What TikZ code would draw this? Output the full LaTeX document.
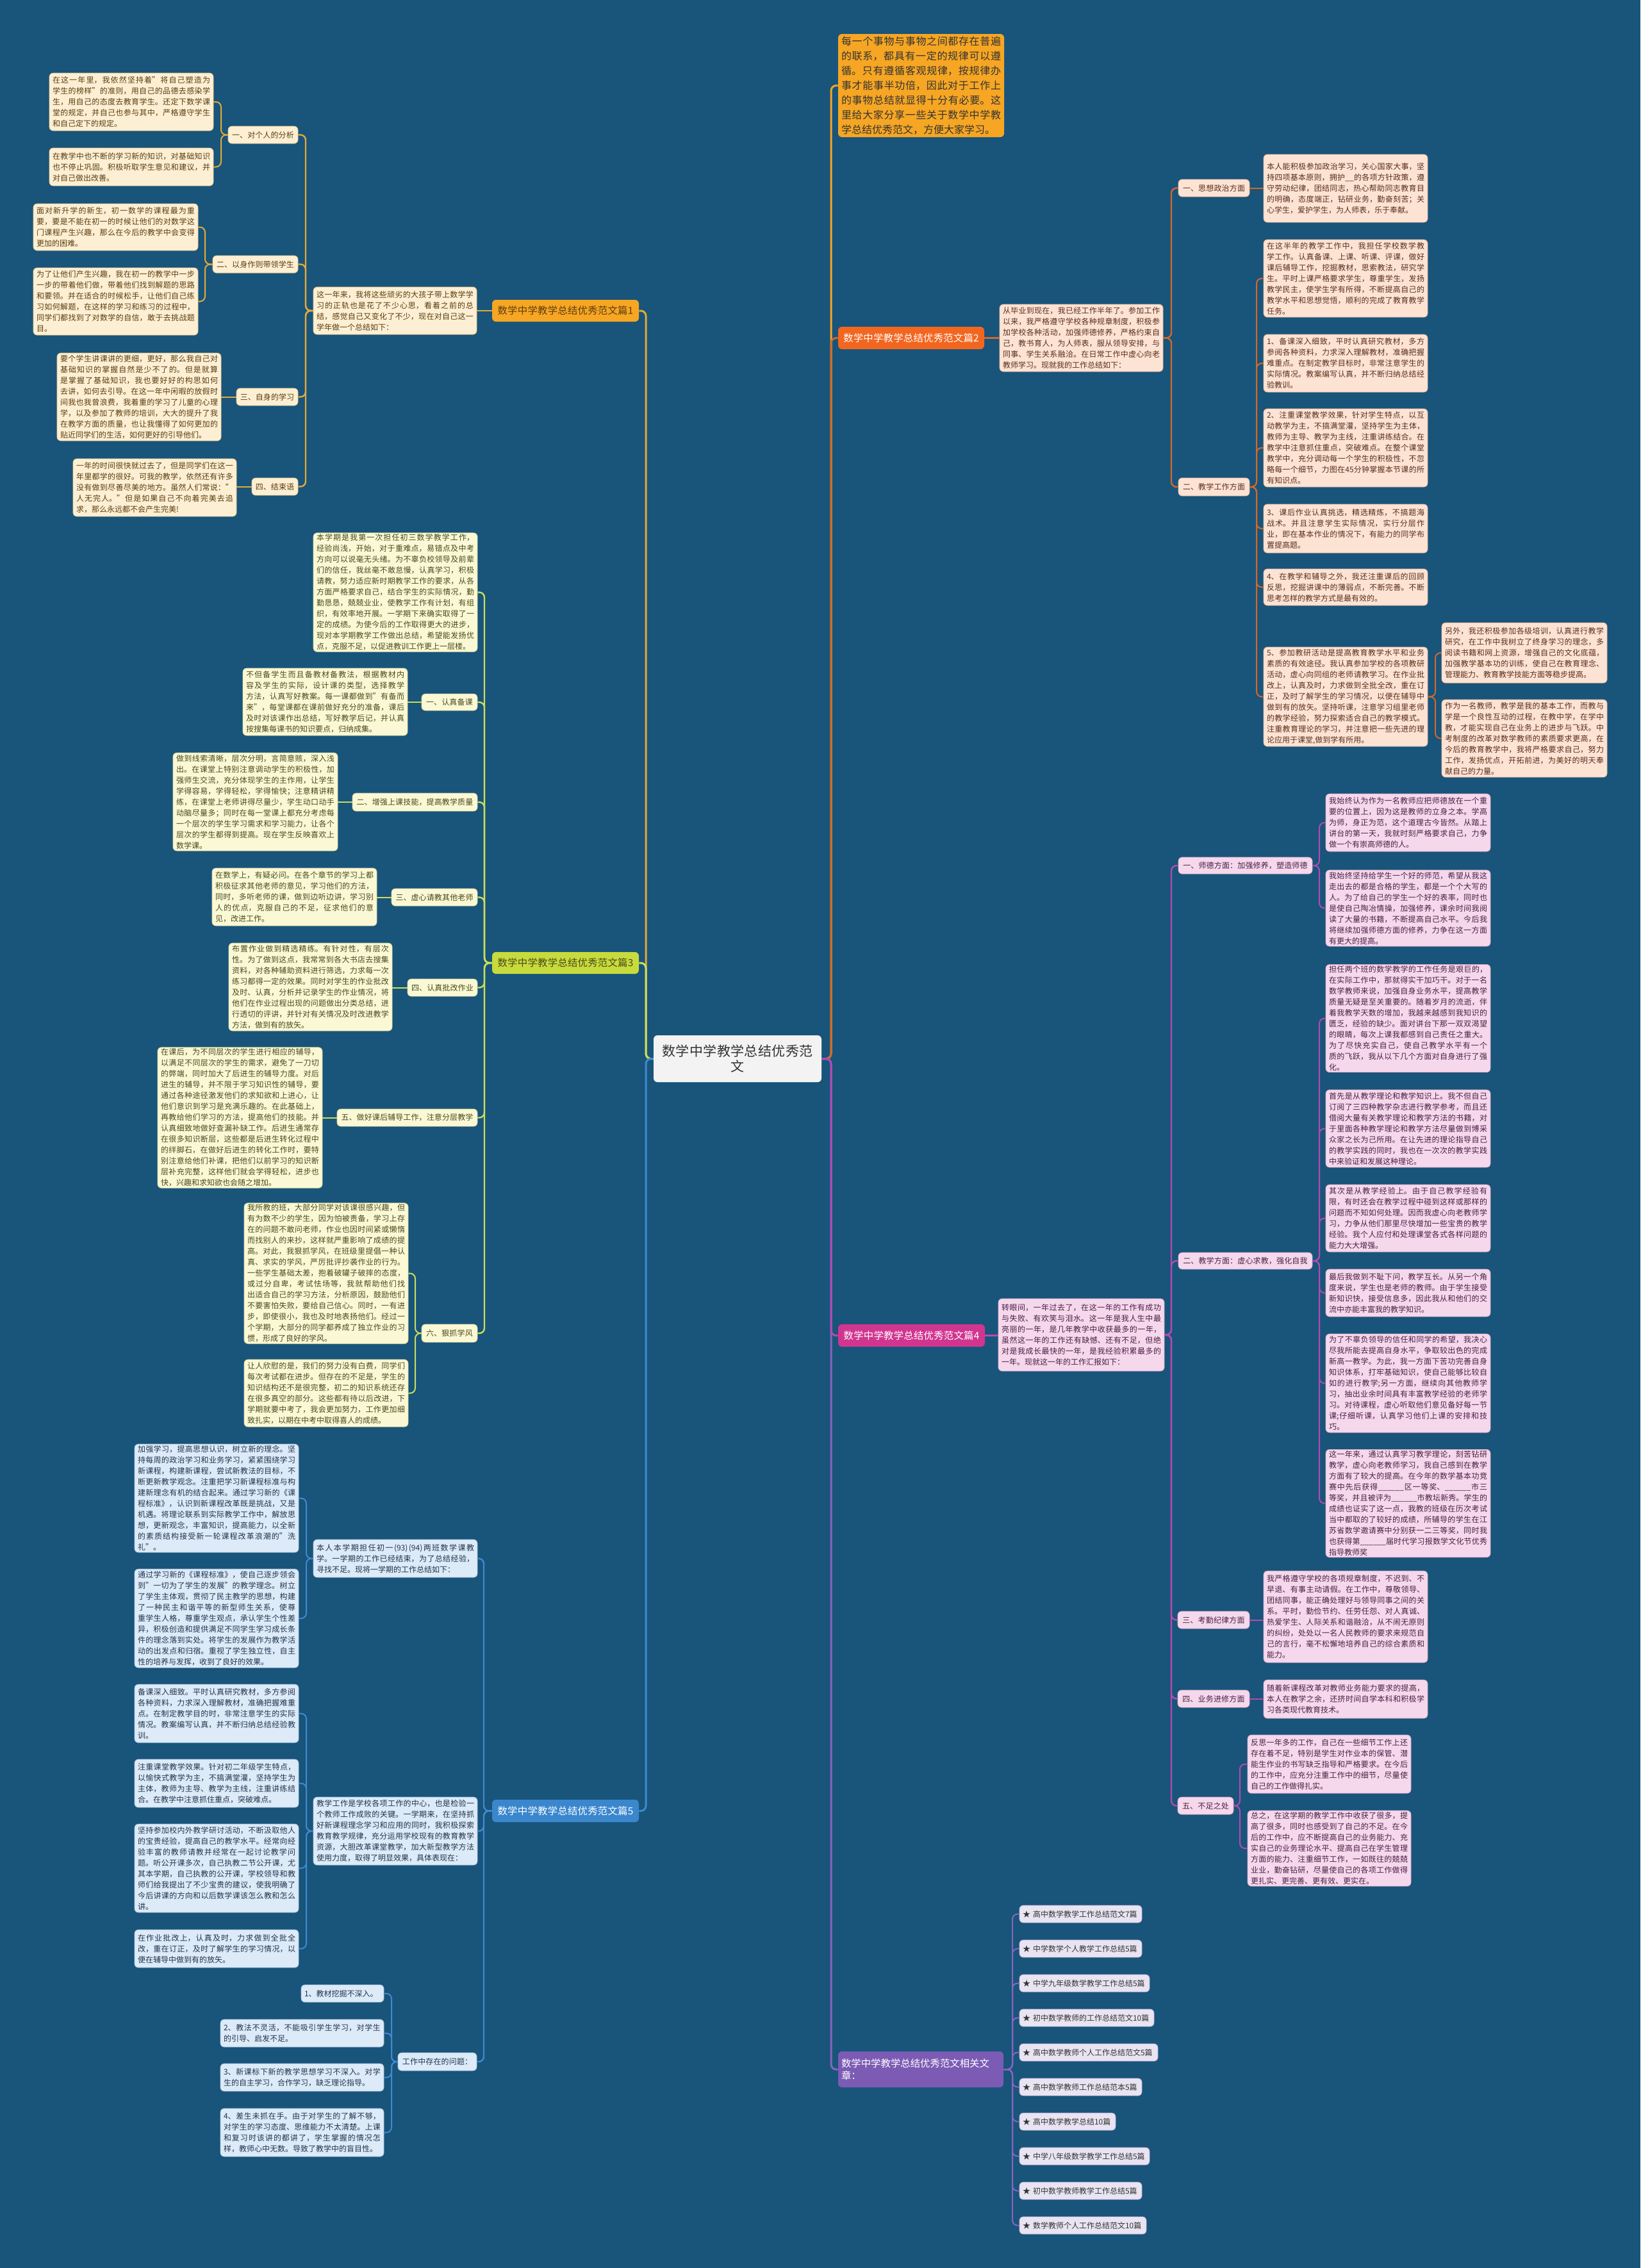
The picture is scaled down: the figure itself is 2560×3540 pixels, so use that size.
\documentclass[tikz,border=0pt]{standalone}
\usepackage{fontspec}
\setmainfont{Noto Sans CJK SC}
\XeTeXlinebreaklocale "zh"
\XeTeXlinebreakskip = 0pt plus 1pt
\definecolor{bg}{HTML}{19547A}
\definecolor{f1}{HTML}{FCEFD3}\definecolor{d1}{HTML}{E8C98C}\definecolor{t1}{HTML}{5C3D10}\definecolor{c1}{HTML}{E2A93A}\definecolor{h1c}{HTML}{F6A623}
\definecolor{f2}{HTML}{FDE3D4}\definecolor{d2}{HTML}{E9B79B}\definecolor{t2}{HTML}{5A2E1A}\definecolor{c2}{HTML}{D0692C}\definecolor{h2c}{HTML}{F2661F}
\definecolor{f3}{HTML}{FBF8D6}\definecolor{d3}{HTML}{D8DA9A}\definecolor{t3}{HTML}{4A4A1A}\definecolor{c3}{HTML}{C9DE5C}\definecolor{h3c}{HTML}{C7DB3C}
\definecolor{f4}{HTML}{F5D8EB}\definecolor{d4}{HTML}{D9A9CB}\definecolor{t4}{HTML}{4A1F45}\definecolor{c4}{HTML}{B24BAF}\definecolor{h4c}{HTML}{D0368F}
\definecolor{f5}{HTML}{DDEAF7}\definecolor{d5}{HTML}{A9C6E3}\definecolor{t5}{HTML}{1F3550}\definecolor{c5}{HTML}{3E8AD2}\definecolor{h5c}{HTML}{3A87CE}
\definecolor{f6}{HTML}{E9E4F2}\definecolor{d6}{HTML}{BFB3DA}\definecolor{t6}{HTML}{333333}\definecolor{c6}{HTML}{8566BF}\definecolor{h6c}{HTML}{7C5BB5}
\definecolor{rootf}{HTML}{F3F3F3}
\newcommand{\bx}[7]{%
  \pgfmathsetmacro{\BXcx}{(#3+#5)/2}%
  \pgfmathsetmacro{\BXcy}{(#4+#6)/2}%
  \pgfmathsetmacro{\BXw}{(#5-#3)*0.5-5}%
  \pgfmathsetmacro{\BXh}{(#6-#4)*0.5}%
  \node[#2, text width=\BXw pt, minimum height=\BXh pt] (#1) at (\BXcx,\BXcy) {#7};%
}
\begin{document}
\begin{tikzpicture}[x=0.5pt,y=-0.5pt,
  base/.style={rounded corners=3pt, inner xsep=2.5pt, inner ysep=1pt, font=\fontsize{6}{8.5}\selectfont, align=justify, line width=0.4pt},
  leafA/.style={base, fill=f1, draw=d1, text=t1}, subA/.style={leafA, align=center},
  leafB/.style={base, fill=f2, draw=d2, text=t2}, subB/.style={leafB, align=center},
  leafC/.style={base, fill=f3, draw=d3, text=t3}, subC/.style={leafC, align=center},
  leafD/.style={base, fill=f4, draw=d4, text=t4}, subD/.style={leafD, align=center},
  leafE/.style={base, fill=f5, draw=d5, text=t5}, subE/.style={leafE, align=center},
  leafF/.style={base, fill=f6, draw=d6, text=t6, align=left},
  hd/.style={rounded corners=3pt, inner xsep=2.5pt, inner ysep=1pt, font=\fontsize{7.7}{9.5}\selectfont, align=center},
  mline/.style={line width=1.5pt, rounded corners=4pt},
  sline/.style={line width=1.2pt, rounded corners=4pt},
  lline/.style={line width=1pt, rounded corners=4pt}
]
\fill[bg] (0,0) rectangle (2560,3540);
\useasboundingbox (0,0) rectangle (2560,3540);
\coordinate (TL) at (1008,0); \coordinate (TR) at (1297,0);
\coordinate (T1) at (477,0); \coordinate (T1a) at (345,0); \coordinate (T1b) at (320,0);
\coordinate (T3) at (756,0); \coordinate (T3f) at (648,0);
\coordinate (T5) at (755,0); \coordinate (T5a) at (478,0); \coordinate (T5c) at (611,0);
\coordinate (T2) at (1828,0); \coordinate (T2b) at (1961,0); \coordinate (T2c) at (2240,0);
\coordinate (T4) at (1828,0); \coordinate (T4a) at (2059,0); \coordinate (T4e) at (1935,0);
\coordinate (T6) at (1580,0);

% root
\bx{root}{rounded corners=3pt, fill=rootf, text=t6, font=\fontsize{10.5}{12}\selectfont, align=center, inner xsep=2.5pt, inner ysep=1pt}{1020}{1616}{1282}{1689}{数学中学教学总结优秀范\\文}

% ===== branch 1 =====
\bx{h1}{hd, fill=h1c, text=t1}{768}{468}{997}{502}{数学中学教学总结优秀范文篇1}
\bx{i1}{leafA}{489}{448}{744}{522}{这一年来，我将这些顽劣的大孩子带上数学学习的正轨也是花了不少心思，看着之前的总结，感觉自己又变化了不少，现在对自己这一学年做一个总结如下：}
\bx{s1a}{subA}{356}{197}{465}{224}{一、对个人的分析}
\bx{s1b}{subA}{332}{399}{465}{426}{二、以身作则带领学生}
\bx{s1c}{subA}{369}{606}{465}{633}{三、自身的学习}
\bx{s1d}{subA}{393}{746}{465}{773}{四、结束语}
\bx{l1a1}{leafA}{77}{114}{333}{204}{在这一年里，我依然坚持着"将自己塑造为学生的榜样"的准则，用自己的品德去感染学生，用自己的态度去教育学生。还定下数学课堂的规定，并自己也参与其中，严格遵守学生和自己定下的规定。}
\bx{l1a2}{leafA}{77}{231}{333}{290}{在教学中也不断的学习新的知识，对基础知识也不停止巩固。积极听取学生意见和建议，并对自己做出改善。}
\bx{l1b1}{leafA}{52}{318}{309}{391}{面对新升学的新生，初一数学的课程最为重要，要是不能在初一的时候让他们的对数学这门课程产生兴趣，那么在今后的教学中会变得更加的困难。}
\bx{l1b2}{leafA}{52}{418}{309}{523}{为了让他们产生兴趣，我在初一的教学中一步一步的带着他们做，带着他们找到解题的思路和要领。并在适合的时候松手，让他们自己练习如何解题，在这样的学习和练习的过程中，同学们都找到了对数学的自信，敢于去挑战题目。}
\bx{l1c}{leafA}{89}{551}{345}{688}{要个学生讲课讲的更细，更好，那么我自己对基础知识的掌握自然是少不了的。但是就算是掌握了基础知识，我也要好好的构思如何去讲，如何去引导。在这一年中闲暇的放假时间我也我曾浪费，我着重的学习了儿童的心理学，以及参加了教师的培训，大大的提升了我在教学方面的质量，也让我懂得了如何更加的贴近同学们的生活，如何更好的引导他们。}
\bx{l1d}{leafA}{114}{716}{369}{806}{一年的时间很快就过去了，但是同学们在这一年里都学的很好。可我的教学，依然还有许多没有做到尽善尽美的地方。虽然人们常说："人无完人。"但是如果自己不向着完美去追求，那么永远都不会产生完美!}

% ===== branch 3 =====
\bx{h3}{hd, fill=h3c, text=t3}{768}{1486}{997}{1520}{数学中学教学总结优秀范文篇3}
\bx{i3}{leafC}{489}{832}{745}{1017}{本学期是我第一次担任初三数学教学工作，经验尚浅，开始，对于重难点，易错点及中考方向可以说毫无头绪。为不辜负校领导及前辈们的信任，我丝毫不敢怠慢，认真学习，积极请教，努力适应新时期教学工作的要求，从各方面严格要求自己，结合学生的实际情况，勤勤恳恳，兢兢业业，使教学工作有计划，有组织，有效率地开展。一学期下来确实取得了一定的成绩。为使今后的工作取得更大的进步，现对本学期教学工作做出总结，希望能发扬优点，克服不足，以促进教训工作更上一层楼。}
\bx{s3a}{subC}{658}{1083}{745}{1109}{一、认真备课}
\bx{s3b}{subC}{550}{1238}{745}{1266}{二、增强上课技能，提高教学质量}
\bx{s3c}{subC}{611}{1387}{745}{1414}{三、虚心请教其他老师}
\bx{s3d}{subC}{636}{1528}{745}{1555}{四、认真批改作业}
\bx{s3e}{subC}{526}{1731}{745}{1758}{五、做好课后辅导工作，注意分层教学}
\bx{s3f}{subC}{658}{2067}{745}{2095}{六、狠抓学风}
\bx{l3a}{leafC}{379}{1043}{636}{1148}{不但备学生而且备教材备教法，根据教材内容及学生的实际，设计课的类型，选择教学方法，认真写好教案。每一课都做到"有备而来"，每堂课都在课前做好充分的准备，课后及时对该课作出总结，写好教学后记，并认真按搜集每课书的知识要点，归纳成集。}
\bx{l3b}{leafC}{270}{1175}{527}{1328}{做到线索清晰，层次分明，言简意赅，深入浅出。在课堂上特别注意调动学生的积极性，加强师生交流，充分体现学生的主作用，让学生学得容易，学得轻松，学得愉快；注意精讲精练，在课堂上老师讲得尽量少，学生动口动手动脑尽量多；同时在每一堂课上都充分考虑每一个层次的学生学习需求和学习能力，让各个层次的学生都得到提高。现在学生反映喜欢上数学课。}
\bx{l3c}{leafC}{331}{1355}{588}{1445}{在数学上，有疑必问。在各个章节的学习上都积极征求其他老师的意见，学习他们的方法，同时，多听老师的课，做到边听边讲，学习别人的优点，克服自己的不足，征求他们的意见，改进工作。}
\bx{l3d}{leafC}{357}{1472}{612}{1609}{布置作业做到精选精练。有针对性，有层次性。为了做到这点，我常常到各大书店去搜集资料，对各种辅助资料进行筛选，力求每一次练习都得一定的效果。同时对学生的作业批改及时、认真，分析并记录学生的作业情况，将他们在作业过程出现的问题做出分类总结，进行透切的评讲，并针对有关情况及时改进教学方法，做到有的放矢。}
\bx{l3e}{leafC}{246}{1637}{503}{1852}{在课后，为不同层次的学生进行相应的辅导，以满足不同层次的学生的需求，避免了一刀切的弊端，同时加大了后进生的辅导力度。对后进生的辅导，并不限于学习知识性的辅导，要通过各种途径激发他们的求知欲和上进心，让他们意识到学习是充满乐趣的。在此基础上，再教给他们学习的方法，提高他们的技能。并认真细致地做好查漏补缺工作。后进生通常存在很多知识断层，这些都是后进生转化过程中的绊脚石，在做好后进生的转化工作时，要特别注意给他们补课，把他们以前学习的知识断层补充完整，这样他们就会学得轻松，进步也快，兴趣和求知欲也会随之增加。}
\bx{l3f1}{leafC}{381}{1880}{637}{2095}{我所教的班，大部分同学对该课很感兴趣，但有为数不少的学生，因为怕被责备，学习上存在的问题不敢问老师，作业也因时间紧或懒惰而找别人的来抄，这样就严重影响了成绩的提高。对此，我狠抓学风，在班级里提倡一种认真、求实的学风，严厉批评抄袭作业的行为。一些学生基础太差，抱着破罐子破摔的态度，或过分自卑，考试怯场等，我就帮助他们找出适合自己的学习方法，分析原因，鼓励他们不要害怕失败，要给自己信心。同时，一有进步，即使很小，我也及时地表扬他们。经过一个学期，大部分的同学都养成了独立作业的习惯，形成了良好的学风。}
\bx{l3f2}{leafC}{381}{2122}{637}{2227}{让人欣慰的是，我们的努力没有白费，同学们每次考试都在进步。但存在的不足是，学生的知识结构还不是很完整，初二的知识系统还存在很多真空的部分。这些都有待以后改进，下学期就要中考了，我会更加努力，工作更加细致扎实，以期在中考中取得喜人的成绩。}

% ===== branch 5 =====
\bx{h5}{hd, fill=h5c, text=white}{768}{2809}{997}{2844}{数学中学教学总结优秀范文篇5}
\bx{s5a}{leafE}{489}{2403}{745}{2462}{本人本学期担任初一(93)(94)两班数学课教学。一学期的工作已经结束，为了总结经验，寻找不足。现将一学期的工作总结如下：}
\bx{s5b}{leafE}{489}{2805}{745}{2911}{教学工作是学校各项工作的中心，也是检验一个教师工作成败的关键。一学期来，在坚持抓好新课程理念学习和应用的同时，我积极探索教育教学规律，充分运用学校现有的教育教学资源，大胆改革课堂教学，加大新型教学方法使用力度，取得了明显效果，具体表现在：}
\bx{s5c}{subE}{621}{3204}{744}{3232}{工作中存在的问题：}
\bx{l5a1}{leafE}{210}{2254}{466}{2423}{加强学习，提高思想认识，树立新的理念。坚持每周的政治学习和业务学习，紧紧围绕学习新课程，构建新课程，尝试新教法的目标，不断更新教学观念。注重把学习新课程标准与构建新理念有机的结合起来。通过学习新的《课程标准》，认识到新课程改革既是挑战，又是机遇。将理论联系到实际教学工作中，解放思想，更新观念，丰富知识，提高能力，以全新的素质结构接受新一轮课程改革浪潮的"洗礼"。}
\bx{l5a2}{leafE}{210}{2449}{466}{2603}{通过学习新的《课程标准》，使自己逐步领会到"一切为了学生的发展"的教学理念。树立了学生主体观，贯彻了民主教学的思想，构建了一种民主和谐平等的新型师生关系，使尊重学生人格，尊重学生观点，承认学生个性差异，积极创造和提供满足不同学生学习成长条件的理念落到实处。将学生的发展作为教学活动的出发点和归宿。重视了学生独立性，自主性的培养与发挥，收到了良好的效果。}
\bx{l5b1}{leafE}{210}{2629}{466}{2720}{备课深入细致。平时认真研究教材，多方参阅各种资料，力求深入理解教材，准确把握难重点。在制定教学目的时，非常注意学生的实际情况。教案编写认真，并不断归纳总结经验教训。}
\bx{l5b2}{leafE}{210}{2746}{466}{2821}{注重课堂教学效果。针对初二年级学生特点，以愉快式教学为主，不搞满堂灌，坚持学生为主体，教师为主导、教学为主线，注重讲练结合。在教学中注意抓住重点，突破难点。}
\bx{l5b3}{leafE}{210}{2847}{466}{2985}{坚持参加校内外教学研讨活动，不断汲取他人的宝贵经验，提高自己的教学水平。经常向经验丰富的教师请教并经常在一起讨论教学问题。听公开课多次，自己执教二节公开课，尤其本学期，自己执教的公开课，学校领导和教师们给我提出了不少宝贵的建议，使我明确了今后讲课的方向和以后数学课该怎么教和怎么讲。}
\bx{l5b4}{leafE}{210}{3012}{466}{3071}{在作业批改上，认真及时，力求做到全批全改，重在订正，及时了解学生的学习情况，以便在辅导中做到有的放矢。}
\bx{l5c1}{leafE}{470}{3098}{599}{3125}{1、教材挖掘不深入。}
\bx{l5c2}{leafE}{344}{3152}{599}{3195}{2、教法不灵活，不能吸引学生学习，对学生的引导、启发不足。}
\bx{l5c3}{leafE}{344}{3221}{599}{3264}{3、新课标下新的教学思想学习不深入。对学生的自主学习，合作学习，缺乏理论指导。}
\bx{l5c4}{leafE}{344}{3291}{599}{3366}{4、差生未抓在手。由于对学生的了解不够，对学生的学习态度、思维能力不太清楚。上课和复习时该讲的都讲了，学生掌握的情况怎样，教师心中无数。导致了教学中的盲目性。}

% ===== intro (right top) =====
\bx{intro}{rounded corners=3pt, fill=h1c, text=t6, font=\fontsize{8}{11.5}\selectfont, align=justify, inner xsep=2.5pt, inner ysep=1pt}{1308}{53}{1567}{214}{每一个事物与事物之间都存在普遍的联系，都具有一定的规律可以遵循。只有遵循客观规律，按规律办事才能事半功倍，因此对于工作上的事物总结就显得十分有必要。这里给大家分享一些关于数学中学教学总结优秀范文，方便大家学习。}

% ===== branch 2 =====
\bx{h2}{hd, fill=h2c, text=white}{1308}{510}{1536}{545}{数学中学教学总结优秀范文篇2}
\bx{i2}{leafB}{1560}{475}{1815}{580}{从毕业到现在，我已经工作半年了。参加工作以来，我严格遵守学校各种规章制度，积极参加学校各种活动，加强师德修养，严格约束自己，教书育人，为人师表，服从领导安排，与同事、学生关系融洽。在日常工作中虚心向老教师学习。现就我的工作总结如下：}
\bx{s2a}{subB}{1839}{280}{1950}{307}{一、思想政治方面}
\bx{s2b}{subB}{1839}{746}{1950}{774}{二、教学工作方面}
\bx{l2a}{leafB}{1972}{241}{2228}{347}{本人能积极参加政治学习，关心国家大事，坚持四项基本原则，拥护\_\_的各项方针政策，遵守劳动纪律，团结同志，热心帮助同志教育目的明确，态度端正，钻研业务，勤奋刻苦；关心学生，爱护学生，为人师表，乐于奉献。}
\bx{l2b1}{leafB}{1972}{374}{2228}{495}{在这半年的教学工作中，我担任学校数学教学工作。认真备课、上课、听课、评课，做好课后辅导工作，挖掘教材，思索教法，研究学生。平时上课严格要求学生，尊重学生，发扬教学民主，使学生学有所得，不断提高自己的教学水平和思想觉悟，顺利的完成了教育教学任务。}
\bx{l2b2}{leafB}{1972}{522}{2228}{612}{1、备课深入细致，平时认真研究教材，多方参阅各种资料，力求深入理解教材，准确把握难重点。在制定教学目标时，非常注意学生的实际情况。教案编写认真，并不断归纳总结经验教训。}
\bx{l2b3}{leafB}{1972}{638}{2228}{760}{2、注重课堂教学效果，针对学生特点，以互动教学为主，不搞满堂灌，坚持学生为主体，教师为主导、教学为主线，注重讲练结合。在教学中注意抓住重点，突破难点。在整个课堂教学中，充分调动每一个学生的积极性，不忽略每一个细节，力图在45分钟掌握本节课的所有知识点。}
\bx{l2b4}{leafB}{1972}{787}{2228}{863}{3、课后作业认真挑选，精选精炼，不搞题海战术。并且注意学生实际情况，实行分层作业，即在基本作业的情况下，有能力的同学布置提高题。}
\bx{l2b5}{leafB}{1972}{888}{2228}{945}{4、在教学和辅导之外，我还注重课后的回顾反思，挖掘讲课中的薄弱点，不断完善。不断思考怎样的教学方式是最有效的。}
\bx{l2b6}{leafB}{1972}{1010}{2228}{1165}{5、参加教研活动是提高教育教学水平和业务素质的有效途径。我认真参加学校的各项教研活动，虚心向同组的老师请教学习。在作业批改上，认真及时，力求做到全批全改，重在订正，及时了解学生的学习情况，以便在辅导中做到有的放矢。坚持听课，注意学习组里老师的教学经验，努力探索适合自己的教学模式。注重教育理论的学习，并注意把一些先进的理论应用于课堂,做到学有所用。}
\bx{l2c1}{leafB}{2250}{972}{2508}{1066}{另外，我还积极参加各级培训，认真进行教学研究，在工作中我树立了终身学习的理念，多阅读书籍和网上资源，增强自己的文化底蕴，加强教学基本功的训练，使自己在教育理念、管理能力、教育教学技能方面等稳步提高。}
\bx{l2c2}{leafB}{2250}{1092}{2508}{1213}{作为一名教师，教学是我的基本工作，而教与学是一个良性互动的过程，在教中学，在学中教，才能实现自己在业务上的进步与飞跃。中考制度的改革对数学教师的素质要求更高，在今后的教育教学中，我将严格要求自己，努力工作，发扬优点，开拓前进，为美好的明天奉献自己的力量。}

% ===== branch 4 =====
\bx{h4}{hd, fill=h4c, text=white}{1308}{2067}{1537}{2102}{数学中学教学总结优秀范文篇4}
\bx{i4}{leafD}{1558}{2027}{1817}{2140}{转眼间，一年过去了，在这一年的工作有成功与失败、有欢笑与泪水。这一年是我人生中最亮丽的一年，是几年教学中收获最多的一年，虽然这一年的工作还有缺憾、还有不足，但绝对是我成长最快的一年，是我经验积累最多的一年。现就这一年的工作汇报如下：}
\bx{s4a}{subD}{1839}{1338}{2048}{1364}{一、师德方面：加强修养，塑造师德}
\bx{s4b}{subD}{1839}{1955}{2048}{1981}{二、教学方面：虚心求教，强化自我}
\bx{s4c}{subD}{1838}{2515}{1950}{2542}{三、考勤纪律方面}
\bx{s4d}{subD}{1838}{2638}{1950}{2665}{四、业务进修方面}
\bx{s4e}{subD}{1838}{2805}{1925}{2832}{五、不足之处}
\bx{l4a1}{leafD}{2069}{1239}{2326}{1329}{我始终认为作为一名教师应把师德放在一个重要的位置上，因为这是教师的立身之本。学高为师，身正为范，这个道理古今皆然。从踏上讲台的第一天，我就时刻严格要求自己，力争做一个有崇高师德的人。}
\bx{l4a2}{leafD}{2069}{1358}{2326}{1477}{我始终坚持给学生一个好的师范，希望从我这走出去的都是合格的学生，都是一个个大写的人。为了给自己的学生一个好的表率，同时也是使自己陶冶情操，加强修养，课余时间我阅读了大量的书籍，不断提高自己水平。今后我将继续加强师德方面的修养，力争在这一方面有更大的提高。}
\bx{l4b1}{leafD}{2069}{1506}{2326}{1673}{担任两个班的数学教学的工作任务是艰巨的，在实际工作中，那就得实干加巧干。对于一名数学教师来说，加强自身业务水平，提高教学质量无疑是至关重要的。随着岁月的流逝，伴着我教学天数的增加，我越来越感到我知识的匮乏，经验的缺少。面对讲台下那一双双渴望的眼睛，每次上课我都感到自己责任之重大。为了尽快充实自己，使自己教学水平有一个质的飞跃，我从以下几个方面对自身进行了强化。}
\bx{l4b2}{leafD}{2069}{1701}{2326}{1822}{首先是从教学理论和教学知识上。我不但自己订阅了三四种教学杂志进行教学参考，而且还借阅大量有关教学理论和教学方法的书籍，对于里面各种教学理论和教学方法尽量做到博采众家之长为己所用。在让先进的理论指导自己的教学实践的同时，我也在一次次的教学实践中来验证和发展这种理论。}
\bx{l4b3}{leafD}{2069}{1849}{2326}{1954}{其次是从教学经验上。由于自己教学经验有限，有时还会在教学过程中碰到这样或那样的问题而不知如何处理。因而我虚心向老教师学习，力争从他们那里尽快增加一些宝贵的教学经验。我个人应付和处理课堂各式各样问题的能力大大增强。}
\bx{l4b4}{leafD}{2069}{1981}{2326}{2055}{最后我做到不耻下问，教学互长。从另一个角度来说，学生也是老师的教师。由于学生接受新知识快，接受信息多，因此我从和他们的交流中亦能丰富我的教学知识。}
\bx{l4b5}{leafD}{2069}{2082}{2326}{2236}{为了不辜负领导的信任和同学的希望，我决心尽我所能去提高自身水平，争取较出色的完成新高一教学。为此，我一方面下苦功完善自身知识体系，打牢基础知识，使自己能够比较自如的进行教学;另一方面，继续向其他教师学习，抽出业余时间具有丰富教学经验的老师学习。对待课程，虚心听取他们意见备好每一节课;仔细听课，认真学习他们上课的安排和技巧。}
\bx{l4b6}{leafD}{2069}{2263}{2326}{2430}{这一年来，通过认真学习教学理论，刻苦钻研教学，虚心向老教师学习，我自己感到在教学方面有了较大的提高。在今年的数学基本功竞赛中先后获得\_\_\_\_\_\_区一等奖、\_\_\_\_\_\_市三等奖，并且被评为\_\_\_\_\_\_市教坛新秀。学生的成绩也证实了这一点，我教的班级在历次考试当中都取的了较好的成绩，所辅导的学生在江苏省数学邀请赛中分别获一二三等奖，同时我也获得第\_\_\_\_\_\_届时代学习报数学文化节优秀指导教师奖}
\bx{l4c}{leafD}{1972}{2452}{2228}{2595}{我严格遵守学校的各项规章制度，不迟到、不早退、有事主动请假。在工作中，尊敬领导、团结同事，能正确处理好与领导同事之间的关系。平时，勤俭节约、任劳任怨、对人真诚、热爱学生、人际关系和谐融洽，从不闹无原则的纠纷，处处以一名人民教师的要求来规范自己的言行，毫不松懈地培养自己的综合素质和能力。}
\bx{l4d}{leafD}{1972}{2622}{2228}{2682}{随着新课程改革对教师业务能力要求的提高，本人在教学之余，还挤时间自学本科和积极学习各类现代教育技术。}
\bx{l4e1}{leafD}{1947}{2708}{2202}{2799}{反思一年多的工作，自己在一些细节工作上还存在着不足，特别是学生对作业本的保管、潜能生作业的书写缺乏指导和严格要求。在今后的工作中，应充分注重工作中的细节，尽量使自己的工作做得扎实。}
\bx{l4e2}{leafD}{1947}{2826}{2202}{2944}{总之，在这学期的教学工作中收获了很多，提高了很多，同时也感受到了自己的不足。在今后的工作中，应不断提高自己的业务能力、充实自己的业务理论水平、提高自己在学生管理方面的能力、注重细节工作，一如既往的兢兢业业，勤奋钻研，尽量使自己的各项工作做得更扎实、更完善、更有效、更实在。}

% ===== related =====
\bx{h6}{hd, fill=h6c, text=white, align=left}{1308}{3202}{1566}{3258}{数学中学教学总结优秀范文相关文\\章：}
\bx{r1}{leafF}{1591}{2974}{1782}{3001}{★ 高中数学教学工作总结范文7篇}
\bx{r2}{leafF}{1591}{3028}{1782}{3055}{★ 中学数学个人教学工作总结5篇}
\bx{r3}{leafF}{1591}{3082}{1794}{3109}{★ 中学九年级数学教学工作总结5篇}
\bx{r4}{leafF}{1591}{3136}{1801}{3163}{★ 初中数学教师的工作总结范文10篇}
\bx{r5}{leafF}{1591}{3190}{1807}{3217}{★ 高中数学教师个人工作总结范文5篇}
\bx{r6}{leafF}{1591}{3244}{1782}{3271}{★ 高中数学教师工作总结范本5篇}
\bx{r7}{leafF}{1591}{3298}{1741}{3325}{★ 高中数学教学总结10篇}
\bx{r8}{leafF}{1591}{3352}{1794}{3379}{★ 中学八年级数学教学工作总结5篇}
\bx{r9}{leafF}{1591}{3406}{1782}{3433}{★ 初中数学教师教学工作总结5篇}
\bx{r10}{leafF}{1591}{3460}{1789}{3487}{★ 数学教师个人工作总结范文10篇}

% ===== connectors: main =====
\draw[mline, c1] (root.west) -- (root.west -| TL) |- (h1.east);
\draw[mline, c3] (root.west) -- (root.west -| TL) |- (h3.east);
\draw[mline, c5] (root.west) -- (root.west -| TL) |- (h5.east);
\draw[mline, h1c] (root.east) -- (root.east -| TR) |- (intro.west);
\draw[mline, c2] (root.east) -- (root.east -| TR) |- (h2.west);
\draw[mline, c6] (root.east) -- (root.east -| TR) |- (h6.west);
\draw[mline, c4] (root.east) -- (root.east -| TR) |- (h4.west);

% branch 1
\draw[sline, c1] (h1.west) -- (i1.east |- h1.west);
\foreach \s in {s1a,s1b,s1c,s1d} \draw[sline, c1] (i1.west) -- (i1.west -| T1) |- (\s.east);
\foreach \s in {l1a1,l1a2} \draw[lline, c1] (s1a.west) -- (s1a.west -| T1a) |- (\s.east);
\foreach \s in {l1b1,l1b2} \draw[lline, c1] (s1b.west) -- (s1b.west -| T1b) |- (\s.east);
\draw[lline, c1] (s1c.west) -- (l1c.east |- s1c.west);
\draw[lline, c1] (s1d.west) -- (l1d.east |- s1d.west);

% branch 3
\foreach \s in {i3,s3a,s3b,s3c,s3d,s3e,s3f} \draw[sline, c3] (h3.west) -- (h3.west -| T3) |- (\s.east);
\draw[lline, c3] (s3a.west) -- (l3a.east |- s3a.west);
\draw[lline, c3] (s3b.west) -- (l3b.east |- s3b.west);
\draw[lline, c3] (s3c.west) -- (l3c.east |- s3c.west);
\draw[lline, c3] (s3d.west) -- (l3d.east |- s3d.west);
\draw[lline, c3] (s3e.west) -- (l3e.east |- s3e.west);
\foreach \s in {l3f1,l3f2} \draw[lline, c3] (s3f.west) -- (s3f.west -| T3f) |- (\s.east);

% branch 5
\foreach \s in {s5a,s5b,s5c} \draw[sline, c5] (h5.west) -- (h5.west -| T5) |- (\s.east);
\foreach \s in {l5a1,l5a2} \draw[lline, c5] (s5a.west) -- (s5a.west -| T5a) |- (\s.east);
\foreach \s in {l5b1,l5b2,l5b3,l5b4} \draw[lline, c5] (s5b.west) -- (s5b.west -| T5a) |- (\s.east);
\foreach \s in {l5c1,l5c2,l5c3,l5c4} \draw[lline, c5] (s5c.west) -- (s5c.west -| T5c) |- (\s.east);

% branch 2
\draw[sline, c2] (h2.east) -- (i2.west |- h2.east);
\foreach \s in {s2a,s2b} \draw[sline, c2] (i2.east) -- (i2.east -| T2) |- (\s.west);
\draw[lline, c2] (s2a.east) -- (l2a.west |- s2a.east);
\foreach \s in {l2b1,l2b2,l2b3,l2b4,l2b5,l2b6} \draw[lline, c2] (s2b.east) -- (s2b.east -| T2b) |- (\s.west);
\foreach \s in {l2c1,l2c2} \draw[lline, c2] (l2b6.east) -- (l2b6.east -| T2c) |- (\s.west);

% branch 4
\draw[sline, c4] (h4.east) -- (i4.west |- h4.east);
\foreach \s in {s4a,s4b,s4c,s4d,s4e} \draw[sline, c4] (i4.east) -- (i4.east -| T4) |- (\s.west);
\foreach \s in {l4a1,l4a2} \draw[lline, c4] (s4a.east) -- (s4a.east -| T4a) |- (\s.west);
\foreach \s in {l4b1,l4b2,l4b3,l4b4,l4b5,l4b6} \draw[lline, c4] (s4b.east) -- (s4b.east -| T4a) |- (\s.west);
\draw[lline, c4] (s4c.east) -- (l4c.west |- s4c.east);
\draw[lline, c4] (s4d.east) -- (l4d.west |- s4d.east);
\foreach \s in {l4e1,l4e2} \draw[lline, c4] (s4e.east) -- (s4e.east -| T4e) |- (\s.west);

% related
\foreach \s in {r1,r2,r3,r4,r5,r6,r7,r8,r9,r10} \draw[lline, c6] (h6.east) -- (h6.east -| T6) |- (\s.west);
\end{tikzpicture}
\end{document}
